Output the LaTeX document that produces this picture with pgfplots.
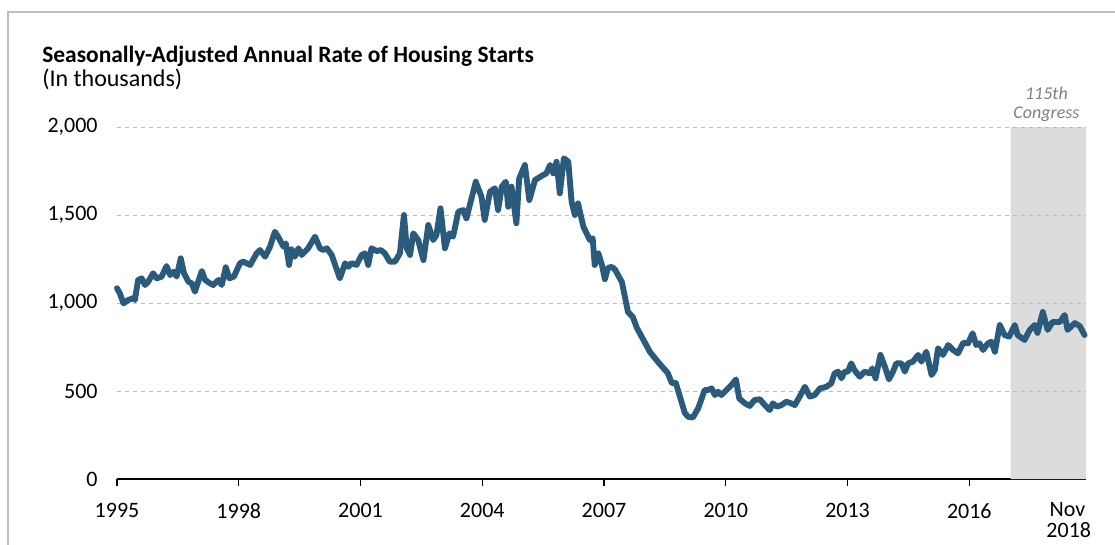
\documentclass[border=0pt]{standalone}
\usepackage{fontspec}
\setmainfont{Carlito}
\usepackage{pgfplots}
\pgfplotsset{compat=1.18}
\definecolor{linec}{HTML}{2A5B7D}
\definecolor{bandc}{HTML}{DCDCDC}
\definecolor{gridc}{HTML}{BDBDBD}
\definecolor{framec}{HTML}{BFBFBF}
\tikzset{xlab/.style={anchor=north, inner sep=0pt, font=\fontsize{16.5}{18}\selectfont}}
\begin{document}
\begin{tikzpicture}
\useasboundingbox (0,0) rectangle (836.25pt,408pt);
\draw[framec, line width=1.5pt] (6pt,-2pt) -- (6pt,399pt) -- (840pt,399pt);
\node[anchor=base west, inner sep=0pt, font=\fontsize{17.6}{20}\selectfont\bfseries] at (31.5pt,360.75pt) {Seasonally-Adjusted Annual Rate of Housing Starts};
\node[anchor=base west, inner sep=0pt, font=\fontsize{18}{20}\selectfont] at (31.5pt,342.75pt) {(In thousands)};
\begin{axis}[
  at={(87.75pt,48.75pt)}, anchor=south west,
  scale only axis, width=726.75pt, height=264pt,
  xmin=1995, xmax=2018.875, ymin=0, ymax=2000,
  clip=false,
  separate axis lines,
  axis x line*=bottom, axis y line*=left,
  x axis line style={black, line width=1.5pt, -},
  y axis line style={draw=none},
  xtick={1995,1998,2001,2004,2007,2010,2013,2016},
  xticklabels={},
  ytick={0,500,1000,1500,2000},
  yticklabels={0,500,{1,000},{1,500},{2,000}},
  xtick align=outside,
  major tick length=5.5pt,
  x tick style={black, line width=1pt},
  y tick style={draw=none},
  tick label style={font=\fontsize{16.5}{18}\selectfont, text=black},
  yticklabel style={xshift=-11pt},
]
\addplot[draw=none, fill=bandc] coordinates {(2017.02,0) (2017.02,2000) (2018.875,2000) (2018.875,0)} \closedcycle;
\addplot[gridc, dashed, line width=0.6pt] coordinates {(1995,500) (2018.875,500)};
\addplot[gridc, dashed, line width=0.6pt] coordinates {(1995,1000) (2018.875,1000)};
\addplot[gridc, dashed, line width=0.6pt] coordinates {(1995,1500) (2018.875,1500)};
\addplot[gridc, dashed, line width=0.6pt] coordinates {(1995,2000) (2018.875,2000)};
\addplot[linec, line width=4.4pt, line join=round, line cap=round] coordinates {
(1995.00,1084) (1995.07,1055) (1995.16,998) (1995.28,1017) (1995.40,1028) (1995.44,1017)
(1995.52,1131) (1995.61,1140) (1995.69,1102) (1995.77,1121) (1995.89,1169) (1995.98,1140)
(1996.10,1150) (1996.22,1210) (1996.31,1159) (1996.40,1178) (1996.47,1150) (1996.57,1254)
(1996.65,1169) (1996.76,1121) (1996.84,1112) (1996.92,1064) (1997.00,1121) (1997.09,1182)
(1997.17,1131) (1997.29,1112) (1997.37,1102) (1997.50,1131) (1997.58,1102) (1997.68,1203)
(1997.77,1140) (1997.88,1150) (1998.03,1226) (1998.11,1235) (1998.28,1216) (1998.44,1282)
(1998.52,1301) (1998.65,1263) (1998.77,1320) (1998.89,1405) (1998.97,1377) (1999.10,1320)
(1999.16,1339) (1999.24,1216) (1999.30,1305) (1999.38,1263) (1999.47,1311) (1999.55,1273)
(1999.71,1311) (1999.88,1377) (2000.00,1311) (2000.08,1301) (2000.17,1311) (2000.29,1273)
(2000.49,1140) (2000.62,1226) (2000.70,1206) (2000.78,1226) (2000.90,1216) (2001.03,1273)
(2001.11,1282) (2001.19,1216) (2001.27,1311) (2001.40,1295) (2001.50,1301) (2001.60,1282)
(2001.72,1235) (2001.85,1235) (2001.97,1282) (2002.07,1500) (2002.14,1311) (2002.22,1273)
(2002.30,1396) (2002.42,1358) (2002.55,1244) (2002.67,1443) (2002.79,1358) (2002.87,1386)
(2002.97,1538) (2003.08,1311) (2003.19,1396) (2003.28,1377) (2003.41,1519) (2003.53,1528)
(2003.61,1481) (2003.84,1689) (2003.98,1604) (2004.06,1472) (2004.19,1632) (2004.31,1652)
(2004.39,1528) (2004.48,1661) (2004.58,1689) (2004.64,1547) (2004.72,1661) (2004.84,1453)
(2004.91,1708) (2005.05,1784) (2005.16,1585) (2005.30,1699) (2005.50,1727) (2005.58,1737)
(2005.67,1784) (2005.75,1737) (2005.83,1803) (2005.91,1623) (2006.01,1822) (2006.12,1803)
(2006.20,1576) (2006.28,1500) (2006.36,1566) (2006.49,1434) (2006.65,1358) (2006.72,1368)
(2006.77,1216) (2006.86,1282) (2006.95,1215) (2007.02,1135) (2007.10,1200) (2007.19,1205)
(2007.27,1190) (2007.44,1119) (2007.59,949) (2007.71,920) (2007.81,858) (2008.00,778)
(2008.13,722) (2008.33,665) (2008.57,602) (2008.67,545) (2008.77,545) (2008.99,375)
(2009.08,352) (2009.19,350) (2009.32,402) (2009.48,506) (2009.56,506) (2009.65,515)
(2009.73,477) (2009.81,496) (2009.89,477) (2010.02,506) (2010.14,534) (2010.25,566)
(2010.33,458) (2010.47,430) (2010.59,415) (2010.71,449) (2010.84,453) (2010.96,420)
(2011.08,392) (2011.16,430) (2011.26,411) (2011.37,420) (2011.49,439) (2011.61,430)
(2011.70,420) (2011.82,468) (2011.95,524) (2012.07,468) (2012.19,477) (2012.32,515)
(2012.48,524) (2012.60,544) (2012.68,600) (2012.77,610) (2012.85,572) (2012.93,610)
(2013.01,610) (2013.09,657) (2013.17,619) (2013.30,581) (2013.42,610) (2013.55,600)
(2013.61,629) (2013.69,572) (2013.81,705) (2013.92,638) (2014.02,566) (2014.12,610)
(2014.20,657) (2014.33,657) (2014.41,610) (2014.49,657) (2014.61,667) (2014.74,705)
(2014.82,667) (2014.94,723) (2015.07,591) (2015.15,619) (2015.23,743) (2015.35,705)
(2015.48,761) (2015.60,733) (2015.72,714) (2015.85,774) (2015.97,771) (2016.08,828)
(2016.17,761) (2016.25,771) (2016.34,733) (2016.46,771) (2016.54,780) (2016.63,723)
(2016.75,875) (2016.87,818) (2016.98,809) (2017.12,875) (2017.19,818) (2017.36,790)
(2017.49,847) (2017.61,875) (2017.68,830) (2017.81,949) (2017.93,847) (2018.05,892)
(2018.23,892) (2018.35,932) (2018.42,847) (2018.60,886) (2018.72,869) (2018.84,818)
};
\node[anchor=south, align=center, inner sep=0pt, text=gray, font=\fontsize{13.5}{14.5}\selectfont\itshape] at (axis cs:2017.9,2030) {115th\\Congress};
\node[xlab] at (axis cs:1995,-136) {1995};
\node[xlab] at (axis cs:1998,-136) {1998};
\node[xlab] at (axis cs:2001,-136) {2001};
\node[xlab] at (axis cs:2004,-136) {2004};
\node[xlab] at (axis cs:2007,-136) {2007};
\node[xlab] at (axis cs:2010,-136) {2010};
\node[xlab] at (axis cs:2013,-136) {2013};
\node[xlab] at (axis cs:2016,-136) {2016};
\node[xlab] at (axis cs:2018.42,-131) {Nov};
\node[xlab] at (axis cs:2018.45,-244) {2018};
\end{axis}
\end{tikzpicture}
\end{document}
